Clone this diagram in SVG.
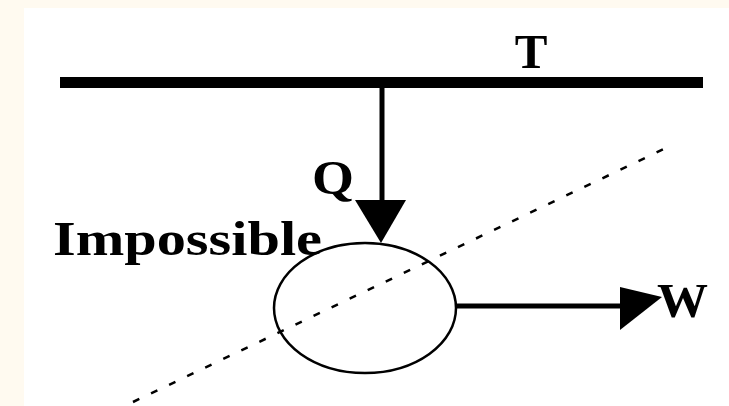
<svg xmlns="http://www.w3.org/2000/svg" width="729" height="406" viewBox="0 0 729 406">
<style>
.lbl{font-family:"Liberation Serif","Times New Roman",serif;font-weight:bold;font-size:49px;fill:#000}
.thin{fill:none;stroke:#000;stroke-width:2.5}
</style>
<rect x="0" y="0" width="729" height="406" fill="#FFFAF0"/>
<rect x="24" y="8" width="705" height="398" fill="#FFFFFF"/>
<g id="reservoir">
<rect x="60" y="77" width="643" height="11" fill="#000"/>
<text class="lbl" x="531" y="68" text-anchor="middle">T</text>
</g>
<g id="engine">
<ellipse class="thin" cx="365" cy="308" rx="91" ry="65"/>
<text class="lbl" x="53" y="255" textLength="269" lengthAdjust="spacingAndGlyphs">Impossible</text>
</g>
<g id="connectors">
<line x1="382" y1="88" x2="382" y2="202" stroke="#000" stroke-width="5"/>
<polygon points="355,200 406,200 381,243" fill="#000"/>
<text class="lbl" x="312" y="194" textLength="42" lengthAdjust="spacingAndGlyphs">Q</text>
<line x1="456" y1="306" x2="622" y2="306" stroke="#000" stroke-width="5"/>
<polygon points="620,287 620,330 662,297" fill="#000"/>
<text class="lbl" x="657" y="317" textLength="51" lengthAdjust="spacingAndGlyphs">W</text>
<line x1="133" y1="402" x2="668" y2="147" stroke="#000" stroke-width="2.5" stroke-dasharray="7 13"/>
</g>
</svg>
